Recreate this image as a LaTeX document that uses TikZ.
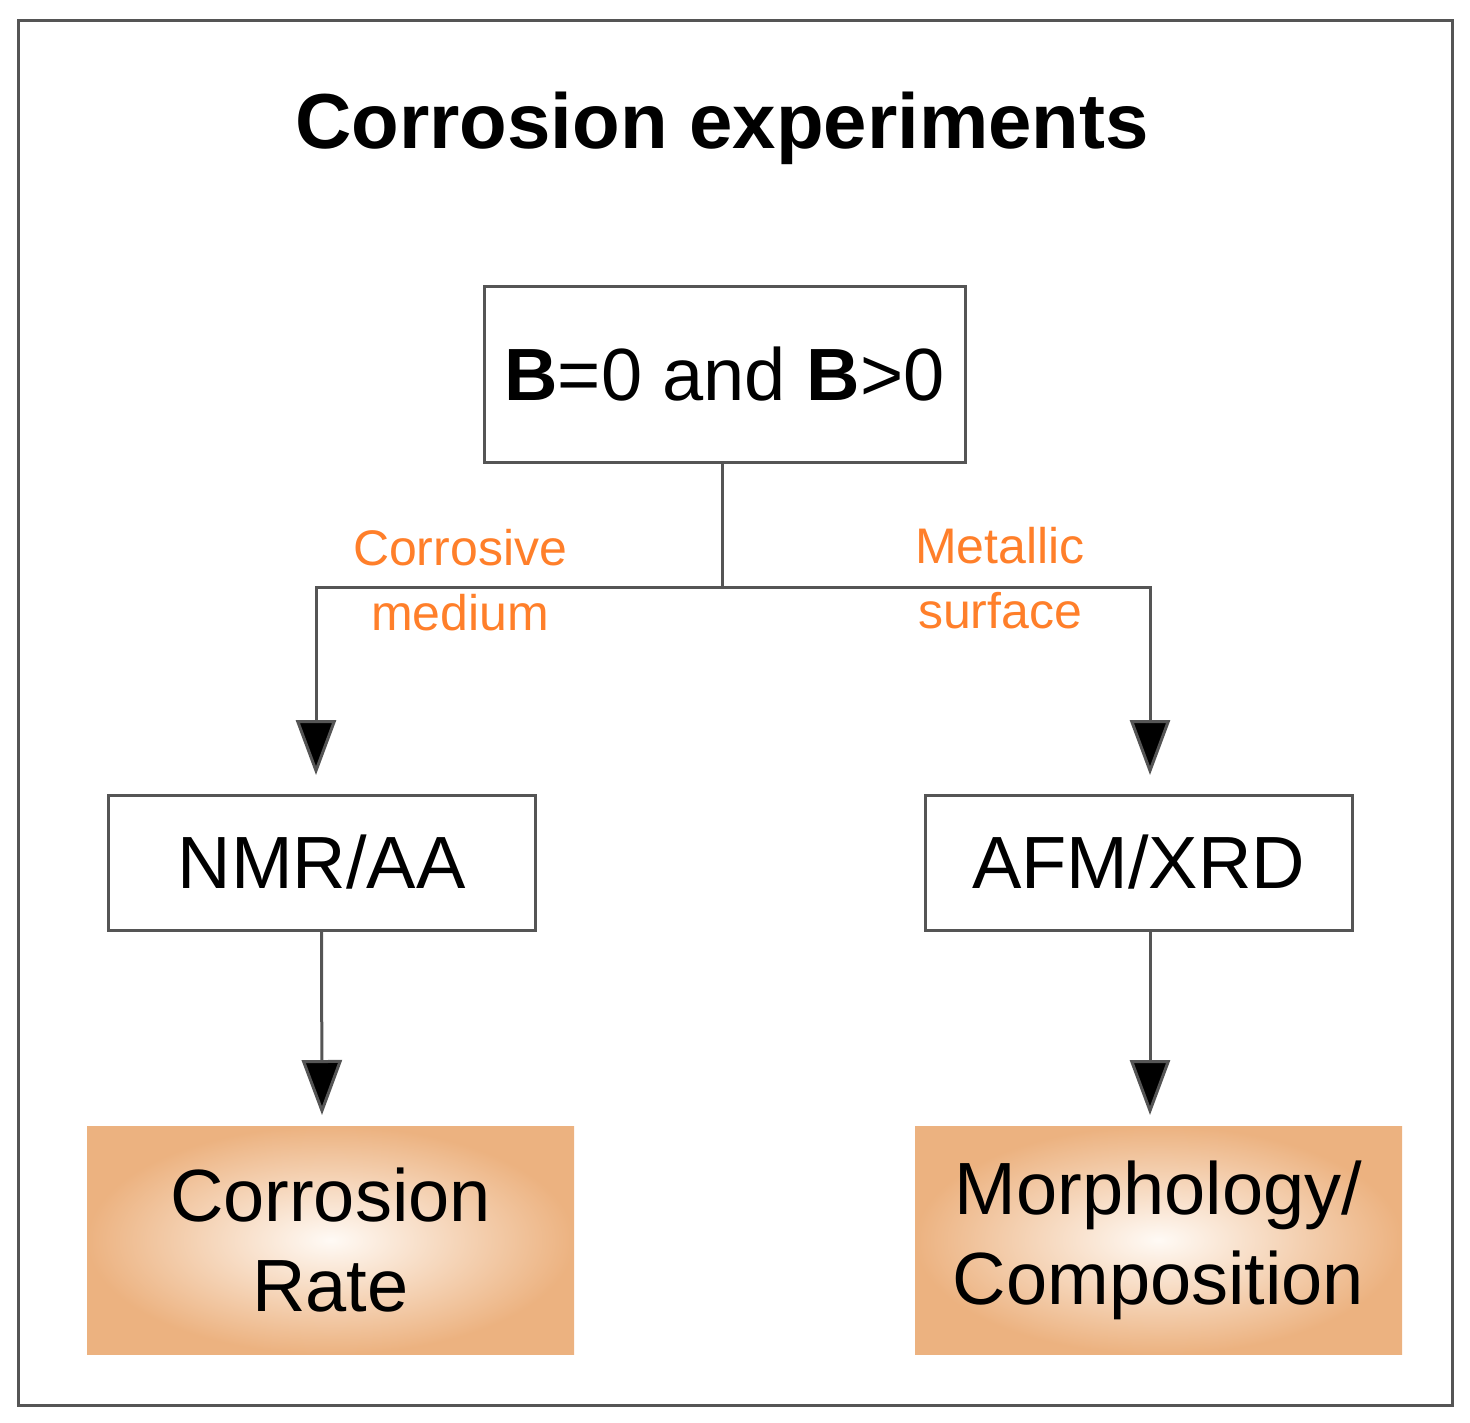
\documentclass[tikz,border=0pt]{standalone}
\usepackage{fontspec}
\setmainfont{Liberation Sans}
\usetikzlibrary{arrows.meta}
\definecolor{lab}{HTML}{FF7F2A}
\definecolor{edge}{HTML}{555555}
\begin{document}
\begin{tikzpicture}[x=1pt,y=-1pt,
  box/.style={draw=edge,line width=3pt,inner sep=0pt},
  obox/.style={inner sep=0pt,shading=radial,inner color={rgb,255:red,255;green,250;blue,245},outer color={rgb,255:red,236;green,178;blue,128}},
  con/.style={draw=edge,line width=3pt},
  arr/.style={con,-{Triangle[width=40pt,length=55pt,fill=black]}},
  lbl/.style={text=lab,font=\fontsize{50}{65}\selectfont,align=center},
  big/.style={font=\fontsize{74}{90}\selectfont,align=center}]
\useasboundingbox (0,0) rectangle (1470,1422);
\draw[draw=edge,line width=3pt] (18,20) rectangle (1452,1405);
\node[font=\fontsize{78}{84}\selectfont\bfseries] (title) at (722,128) {Corrosion experiments};
\node[box,minimum width=481pt,minimum height=176pt,big] (top) at (724.5,374) {\textbf{B}=0 and \textbf{B}>0};
\node[box,minimum width=427pt,minimum height=135pt,big] (nmr) at (321.5,862.5) {NMR/AA};
\node[box,minimum width=427pt,minimum height=135pt,big] (afm) at (1138.5,862.5) {AFM/XRD};
\node[obox,minimum width=487pt,minimum height=228pt,big] (cr) at (330.5,1240) {Corrosion\\Rate};
\node[obox,minimum width=487pt,minimum height=228pt,big] (mc) at (1158.5,1240) {Morphology/\\Composition};
\coordinate (j) at (722,587);
\coordinate (jl) at (316,587);
\coordinate (jr) at (1150,587);
\draw[con] (top.south -| j) -- (j);
\draw[arr] (j) -- (jl) -- (316,775);
\draw[arr] (j) -- (jr) -- (1150,775);
\draw[arr] (nmr.south) -- (322,1115);
\draw[arr] (afm.south -| jr) -- (1150,1115);
\node[lbl] (l1) at (460,580) {Corrosive\\medium};
\node[lbl] (l2) at (1000,578) {Metallic\\surface};
\end{tikzpicture}
\end{document}
